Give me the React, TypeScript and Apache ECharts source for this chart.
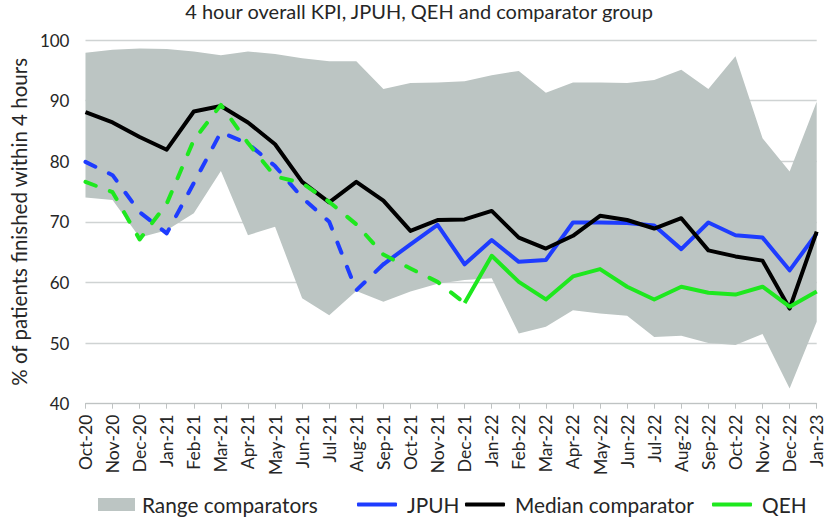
import React, { useEffect, useRef } from "react";
import * as echarts from "echarts";

const months = [
  "Oct-20", "Nov-20", "Dec-20", "Jan-21", "Feb-21", "Mar-21", "Apr-21",
  "May-21", "Jun-21", "Jul-21", "Aug-21", "Sep-21", "Oct-21", "Nov-21",
  "Dec-21", "Jan-22", "Feb-22", "Mar-22", "Apr-22", "May-22", "Jun-22",
  "Jul-22", "Aug-22", "Sep-22", "Oct-22", "Nov-22", "Dec-22", "Jan-23",
];

const rangeMin = [
  74.0, 73.6, 67.4, 68.6, 71.4, 78.4, 67.8, 69.2, 57.4, 54.6, 58.6, 56.8, 58.5, 59.8,
  60.4, 60.7, 51.6, 52.7, 55.4, 54.9, 54.5, 51.0, 51.2, 50.0, 49.7, 51.5, 42.5, 53.5,
];
const rangeMax = [
  97.9, 98.4, 98.6, 98.5, 98.1, 97.5, 98.1, 97.7, 97.0, 96.5, 96.5, 91.9, 92.9, 93.0,
  93.2, 94.2, 94.9, 91.3, 93.0, 93.0, 92.9, 93.4, 95.1, 91.9, 97.3, 83.8, 78.3, 89.8,
];
const median = [
  88.1, 86.4, 84.0, 81.9, 88.2, 89.1, 86.4, 82.8, 76.6, 73.2, 76.6, 73.5, 68.5, 70.3,
  70.4, 71.8, 67.4, 65.6, 67.7, 71.0, 70.3, 68.9, 70.6, 65.3, 64.3, 63.6, 55.7, 68.4,
];
const jpuh = [
  79.9, 77.7, 71.6, 68.1, 76.4, 84.8, 82.9, 79.2, 74.0, 70.0, 58.7, 63.0, 66.3, 69.5,
  63.0, 67.0, 63.4, 63.7, 69.9, 69.9, 69.8, 69.4, 65.5, 69.9, 67.8, 67.4, 62.0, 68.1,
];
const qeh = [
  76.6, 74.9, 67.1, 73.0, 83.5, 89.3, 83.0, 77.5, 76.4, 73.3, 69.6, 64.6, 62.3, 60.1,
  56.6, 64.4, 60.1, 57.2, 61.0, 62.2, 59.3, 57.2, 59.3, 58.3, 58.0, 59.3, 56.0, 58.5,
];

const yMin = 40;
const yMax = 100;
const yStep = 10;

const jpuhDashedUntil = "Sep-21";
const qehDashedUntil = "Dec-21";

const TITLE = "4 hour overall KPI, JPUH, QEH and comparator group";
const Y_NAME = "% of patients finished within 4 hours";

const FONT = "Lato, 'Open Sans', sans-serif";
const TEXT = "#262626";
const BAND = "#bcc5c3";
const BLUE = "#1e3cff";
const BLACK = "#000000";
const GREEN = "#1ee81e";
const GRID = "#cfd3d3";

function splitAt(values: number[], lastDashed: string) {
  const idx = months.indexOf(lastDashed);
  return {
    dashed: values.map((v, i) => (i <= idx ? v : "-")),
    solid: values.map((v, i) => (i >= idx ? v : "-")),
  };
}

export default function App() {
  const ref = useRef<HTMLDivElement>(null);

  useEffect(() => {
    if (!ref.current) return;
    const chart = echarts.init(ref.current, null, { renderer: "svg" });

    const band = rangeMax.map((v, i) => +(v - rangeMin[i]).toFixed(2));
    const j = splitAt(jpuh, jpuhDashedUntil);
    const q = splitAt(qeh, qehDashedUntil);

    const lineBase = {
      type: "line",
      symbol: "none",
      showSymbol: false,
      connectNulls: false,
      silent: true,
    };
    const dash = [11, 15];
    const LEGEND_TOP = 494;

    const legendText = (pad: number) => ({
      fontSize: 20.8,
      color: TEXT,
      fontFamily: FONT,
      padding: [0, 0, 0, pad],
    });
    const lineLegend = (name: string, left: number) => ({
      top: LEGEND_TOP,
      left,
      itemWidth: 40,
      itemHeight: 4,
      itemGap: 0,
      padding: 0,
      selectedMode: false,
      textStyle: legendText(5),
      data: [{ name, icon: "roundRect" }],
    });

    chart.setOption({
      animation: false,
      backgroundColor: "#ffffff",
      textStyle: { fontFamily: FONT },
      title: {
        text: TITLE,
        left: 419,
        textAlign: "center",
        top: 1,
        padding: 0,
        textStyle: { fontSize: 20, fontWeight: "normal", color: TEXT, fontFamily: FONT },
      },
      legend: [
        {
          top: LEGEND_TOP,
          left: 98,
          itemWidth: 37,
          itemHeight: 13,
          itemGap: 0,
          padding: 0,
          selectedMode: false,
          textStyle: legendText(2),
          data: [{ name: "Range comparators", icon: "rect", itemStyle: { color: BAND, borderWidth: 0 } }],
        },
        lineLegend("JPUH", 357),
        lineLegend("Median comparator", 465),
        lineLegend("QEH", 712),
      ],
      grid: { left: 71.7, right: 10.3, top: 40, bottom: 113.3, containLabel: false },
      xAxis: {
        type: "category",
        data: months,
        boundaryGap: false,
        axisLine: { show: true, lineStyle: { color: "#bfc3c3", width: 1 } },
        axisTick: { show: true, interval: 0, length: 5, lineStyle: { color: "#bfc3c3" } },
        axisLabel: {
          interval: 0,
          rotate: 90,
          margin: 11,
          fontSize: 17.5,
          color: TEXT,
          fontFamily: FONT,
        },
        splitLine: { show: false },
      },
      yAxis: {
        type: "value",
        min: yMin,
        max: yMax,
        interval: yStep,
        name: Y_NAME,
        nameLocation: "middle",
        nameGap: 55,
        nameTextStyle: { fontSize: 20.5, color: TEXT, fontFamily: FONT },
        axisLine: { show: false },
        axisTick: { show: false },
        axisLabel: { fontSize: 17, color: TEXT, margin: 16, fontFamily: FONT },
        splitLine: { show: true, lineStyle: { color: GRID, width: 1.3 } },
      },
      series: [
        {
          ...lineBase,
          name: "lower",
          stack: "band",
          data: rangeMin,
          lineStyle: { opacity: 0, width: 0 },
          itemStyle: { color: "transparent" },
          z: 1,
        },
        {
          ...lineBase,
          name: "Range comparators",
          stack: "band",
          data: band,
          lineStyle: { opacity: 0, width: 0 },
          itemStyle: { color: BAND },
          areaStyle: { color: BAND, opacity: 1 },
          z: 1,
        },
        {
          ...lineBase,
          name: "JPUH",
          data: j.solid,
          itemStyle: { color: BLUE },
          lineStyle: { color: BLUE, width: 4, type: "solid", join: "round" },
          z: 3,
        },
        {
          ...lineBase,
          name: "JPUH",
          data: j.dashed,
          itemStyle: { color: BLUE },
          lineStyle: { color: BLUE, width: 4, type: dash, cap: "round", join: "round" },
          z: 3,
        },
        {
          ...lineBase,
          name: "Median comparator",
          data: median,
          itemStyle: { color: BLACK },
          lineStyle: { color: BLACK, width: 4, type: "solid", join: "round" },
          z: 4,
        },
        {
          ...lineBase,
          name: "QEH",
          data: q.solid,
          itemStyle: { color: GREEN },
          lineStyle: { color: GREEN, width: 4, type: "solid", join: "round" },
          z: 5,
        },
        {
          ...lineBase,
          name: "QEH",
          data: q.dashed,
          itemStyle: { color: GREEN },
          lineStyle: { color: GREEN, width: 4, type: dash, cap: "round", join: "round" },
          z: 5,
        },
      ],
    });

    return () => chart.dispose();
  }, []);

  return (
    <div
      ref={ref}
      style={{ position: "fixed", left: 0, top: 0, width: 827, height: 517, background: "#fff" }}
    />
  );
}
